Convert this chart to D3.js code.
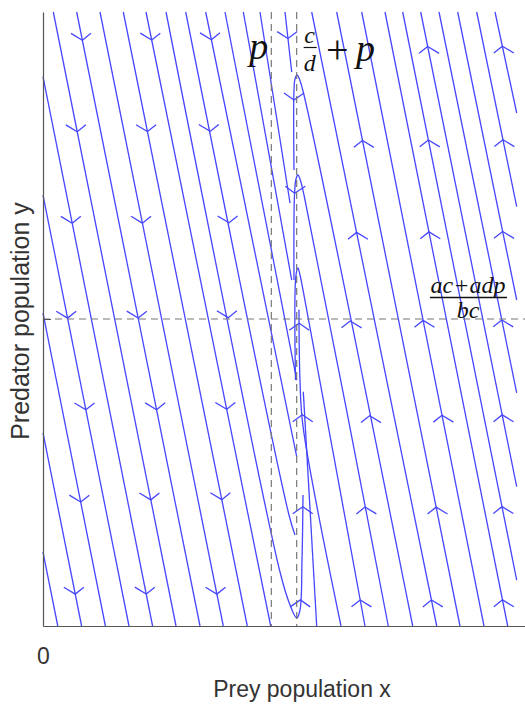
<!DOCTYPE html>
<html><head><meta charset="utf-8">
<script src="https://cdn.jsdelivr.net/npm/d3@7"></script>
<style>body{margin:0;background:#fff}svg{display:block}</style>
</head><body>
<svg id="c" width="525" height="704"></svg>
<script>
// ---------- data (arbitrary model units) ----------
const xDomain = [0, 19];
const yDomain = [0, 20];
const pRefuge = 9;          // x = p
const xStar = 10;           // x = c/d + p
const yStar = 10;           // y = (ac+adp)/(bc)
const xTickValues = [0];
const xTickLabels = ["0"];
const xAxisTitle = "Prey population x";
const yAxisTitle = "Predator population y";

// streamlines, each listed in the direction of flow
const leftStreamlines = [
  [[0,17.893],[4.320,0]],
  [[0,14.039],[3.390,0]],
  [[0,10.195],[2.460,0]],
  [[0,6.287],[1.522,0]],
  [[0,2.410],[0.583,0]],
  [[0.406,20],[5.243,0]],
  [[1.328,20],[6.189,0]],
  [[2.247,20],[7.107,0]],
  [[3.165,20],[8.053,0]],
  [[4.060,20],[8.976,0]]
];
const centerStreamlines = [
  [[4.849,20],[9.343,1.759],[9.737,0.684],[10.001,0.261],[10.131,0.521],[10.210,2.150],[10.249,4.267]],
  [[5.625,20],[9.697,3.616],[9.934,2.964]],
  [[6.414,20],[10.001,5.515]],
  [[7.174,20],[10.001,8.013]],
  [[7.896,20],[9.804,11.270]],
  [[8.554,20],[9.737,13.779]],
  [[9.540,20],[9.804,18.046]],
  [[14.574,0],[10.249,17.427],[10.091,17.850],[10.013,17.948],[9.934,17.818],[9.894,17.459],[9.894,14.853]],
  [[13.611,0],[10.289,14.039],[10.131,14.560],[10.052,14.691],[9.973,14.560],[9.914,14.039],[9.894,11.270]],
  [[12.693,0],[10.249,10.945],[10.131,11.433],[10.052,11.661],[9.973,11.433],[9.953,8.013]],
  [[11.747,0],[10.25,6.5],[10.13,8.0],[10.09,10.3]],
  [[10.789,0],[10.261,7.632]]
];
const rightStreamlines = [
  [[18.318,0],[13.481,20]],
  [[17.384,0],[12.563,20]],
  [[16.438,0],[11.577,20]],
  [[15.520,0],[10.592,20]],
  [[18.673,1.498],[14.179,20]],
  [[18.673,4.537],[14.889,20]],
  [[18.673,7.590],[15.610,20]],
  [[18.673,10.619],[16.347,20]],
  [[18.673,13.658],[17.096,20]],
  [[18.673,16.710],[17.818,20]]
];
// arrowhead positions (snapped to the nearest streamline)
const arrowPoints = [
  [1.589,19.088],[4.285,19.088],[6.583,19.088],
  [1.352,16.101],[4.088,16.101],[6.516,16.101],
  [1.131,13.117],[3.891,13.117],[7.241,13.117],
  [0.934,10.023],[3.694,10.023],[7.174,10.023],
  [1.656,7.036],[4.415,7.036],[7.107,7.036],
  [1.431,4.029],[4.218,4.104],[6.977,4.104],
  [1.234,1.033],[4.021,1.033],[6.820,1.033],
  [9.737,19.143],[9.934,17.134],[9.973,14.094],
  [15.126,18.870],[18.015,18.870],
  [12.693,15.831],[15.189,15.831],[18.082,15.831],
  [12.496,12.844],[15.256,12.844],[18.082,12.844],
  [10.064,9.860],[12.299,9.967],[15.059,9.967],[18.082,9.967],
  [10.103,6.873],[13.020,6.873],[15.780,6.873],[18.082,6.873],
  [10.198,3.886],[12.760,3.886],[15.583,3.886],[18.082,3.886],
  [10.261,0.847],[12.496,0.847],[15.323,0.847],[18.082,0.847]
];

// ---------- drawing ----------
const svg = d3.select("#c");
const x = d3.scaleLinear().domain(xDomain).range([43, 525]);
const y = d3.scaleLinear().domain(yDomain).range([626, 12]);
const blue = "rgb(70,70,255)";

const allLines = leftStreamlines.concat(centerStreamlines, rightStreamlines);
const line = d3.line().x(d => x(d[0])).y(d => y(d[1])).curve(d3.curveCatmullRom.alpha(0.5));

svg.append("g").selectAll("path").data(allLines).join("path")
  .attr("d", line).attr("fill", "none").attr("stroke", blue).attr("stroke-width", 1.3);

// arrows
const segs = [];
allLines.forEach(l => {
  for (let i = 0; i < l.length - 1; i++) {
    segs.push([[x(l[i][0]), y(l[i][1])], [x(l[i+1][0]), y(l[i+1][1])]]);
  }
});
function snap(px, py) {
  let best = null, bd = Infinity;
  segs.forEach(s => {
    const [a, b] = s;
    const vx = b[0]-a[0], vy = b[1]-a[1];
    const L2 = vx*vx + vy*vy;
    let t = ((px-a[0])*vx + (py-a[1])*vy) / L2;
    t = Math.max(0, Math.min(1, t));
    const qx = a[0]+t*vx, qy = a[1]+t*vy;
    const d = (qx-px)**2 + (qy-py)**2;
    if (d < bd) { bd = d; const L = Math.sqrt(L2); best = {qx, qy, dx: vx/L, dy: vy/L}; }
  });
  return best;
}
const arrowG = svg.append("g");
arrowPoints.forEach(p => {
  const s = snap(x(p[0]), y(p[1]));
  const bx = -s.dx * 7, by = -s.dy * 7;
  const a1 = [s.qx + bx - 10, s.qy + by];
  const a2 = [s.qx + bx + 10, s.qy + by];
  arrowG.append("path")
    .attr("d", `M${a1[0]},${a1[1]}L${s.qx},${s.qy}L${a2[0]},${a2[1]}`)
    .attr("fill", "none").attr("stroke", blue).attr("stroke-width", 1.3);
});

// dashed reference lines
const dash = svg.append("g").attr("stroke", "#777").attr("stroke-width", 1.2).attr("stroke-dasharray", "7,5");
[pRefuge, xStar].forEach(v => dash.append("line")
  .attr("x1", x(v)).attr("x2", x(v)).attr("y1", y(yDomain[1])).attr("y2", y(0)));
dash.append("line").attr("x1", x(0)).attr("x2", x(xDomain[1])).attr("y1", y(yStar)).attr("y2", y(yStar));

// axes
const gx = svg.append("g").attr("transform", `translate(0,${y(0)})`)
  .call(d3.axisBottom(x).tickValues(xTickValues).tickFormat((d, i) => xTickLabels[i]).tickSize(0).tickSizeOuter(0).tickPadding(22));
gx.select(".domain").attr("stroke", "#555").attr("stroke-width", 1.2);
gx.selectAll("text").attr("font-family", "Liberation Sans, Arial, sans-serif").attr("font-size", 23).attr("fill", "#333");

const gy = svg.append("g").attr("transform", `translate(${x(0)},0)`)
  .call(d3.axisLeft(y).tickValues([yStar]).tickFormat("").tickSize(-8).tickSizeOuter(0));
gy.select(".domain").attr("stroke", "#555").attr("stroke-width", 1.2);
gy.selectAll(".tick line").attr("stroke", "#555");

// axis titles
svg.append("text").attr("x", 302).attr("y", 697).attr("text-anchor", "middle")
  .attr("font-family", "Liberation Sans, Arial, sans-serif").attr("font-size", 23).attr("fill", "#333")
  .text(xAxisTitle);
svg.append("text").attr("transform", "translate(29,321) rotate(-90)").attr("text-anchor", "middle")
  .attr("font-family", "Liberation Sans, Arial, sans-serif").attr("font-size", 25).attr("fill", "#333")
  .text(yAxisTitle);

// math annotations
const serif = "Liberation Serif, DejaVu Serif, serif";
const ann = svg.append("g").attr("font-family", serif).attr("fill", "#111");
ann.append("text").attr("x", x(pRefuge) - 22).attr("y", 59).attr("font-size", 38).attr("font-style", "italic").text("p");
// c/d + p
const fx = x(xStar) + 7;
ann.append("text").attr("x", fx + 6).attr("y", 43).attr("text-anchor", "middle").attr("font-size", 24).attr("font-style", "italic").text("c");
ann.append("line").attr("x1", fx).attr("x2", fx + 13).attr("y1", 47.5).attr("y2", 47.5).attr("stroke", "#111").attr("stroke-width", 1.2);
ann.append("text").attr("x", fx + 6).attr("y", 71).attr("text-anchor", "middle").attr("font-size", 24).attr("font-style", "italic").text("d");
ann.append("text").attr("x", 326).attr("y", 63).attr("font-size", 40).text("+");
ann.append("text").attr("x", 356).attr("y", 61).attr("font-size", 38).attr("font-style", "italic").text("p");
// (ac+adp)/(bc)
const cx2 = 468;
ann.append("text").attr("x", cx2).attr("y", 293).attr("text-anchor", "middle").attr("font-size", 24).attr("font-style", "italic").text("ac+adp");
ann.append("line").attr("x1", 430).attr("x2", 507).attr("y1", 297.5).attr("y2", 297.5).attr("stroke", "#111").attr("stroke-width", 1.3);
ann.append("text").attr("x", cx2).attr("y", 318).attr("text-anchor", "middle").attr("font-size", 24).attr("font-style", "italic").text("bc");
</script>
</body></html>
